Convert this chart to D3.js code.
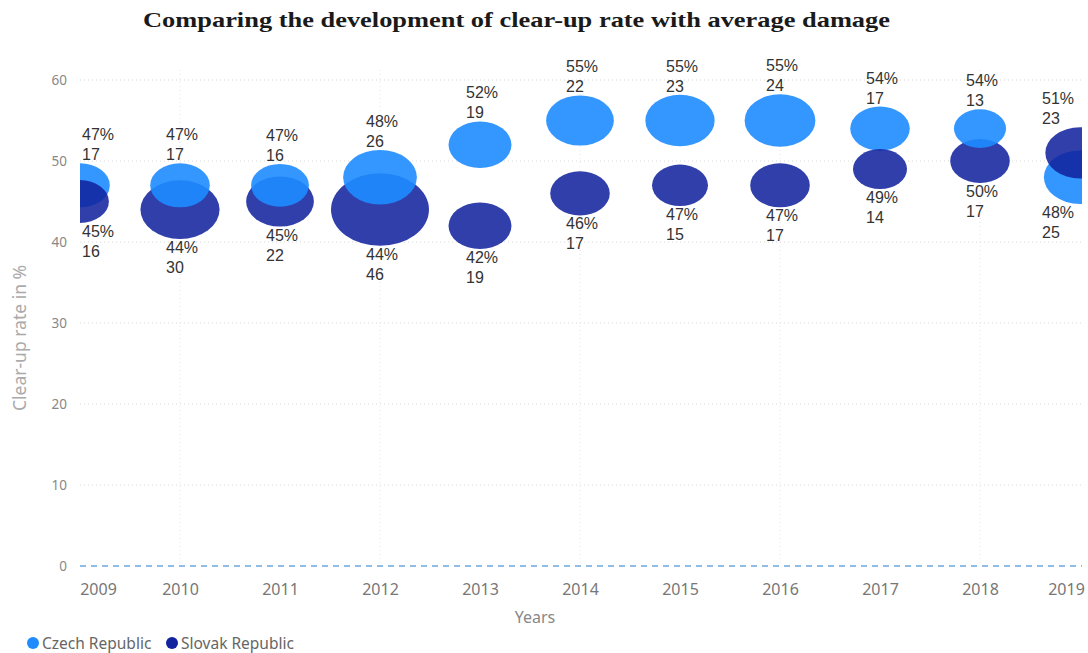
<!DOCTYPE html>
<html>
<head>
<meta charset="utf-8">
<script src="https://cdn.jsdelivr.net/npm/d3@7"></script>
<style>
  html, body { margin: 0; padding: 0; background: #fff; }
  svg { display: block; }
</style>
</head>
<body>
<svg id="chart" width="1088" height="653"></svg>
<script>
const years = [2009, 2010, 2011, 2012, 2013, 2014, 2015, 2016, 2017, 2018, 2019];
const czechRate = [47, 47, 47, 48, 52, 55, 55, 55, 54, 54, 48];
const czechDamage = [17, 17, 16, 26, 19, 22, 23, 24, 17, 13, 25];
const slovakRate = [45, 44, 45, 44, 42, 46, 47, 47, 49, 50, 51];
const slovakDamage = [16, 30, 22, 46, 19, 17, 15, 17, 14, 17, 23];
const yTicks = [0, 10, 20, 30, 40, 50, 60];
const gridYears = [2010, 2012, 2014, 2016, 2018];
const seriesNames = ["Czech Republic", "Slovak Republic"];
const seriesColors = ["#1E8CFF", "#12239E"];
const titleText = "Comparing the development of clear-up rate with average damage";

const svg = d3.select("#chart");
const plot = { left: 80, right: 1082, top: 60, bottom: 566 };

const x = d3.scaleLinear().domain([2009, 2019]).range([80, 1080]);
const y = d3.scaleLinear().domain([0, 60]).range([566, 80]);
const r = d3.scaleSqrt().domain([0, 46]).range([0, 49]);
const aspect = 0.74;
const sans = "'Noto Sans', 'Open Sans', sans-serif";

// Title
svg.append("text")
  .attr("x", 143).attr("y", 27)
  .attr("textLength", 747).attr("lengthAdjust", "spacingAndGlyphs")
  .attr("font-family", "'Liberation Serif', 'Times New Roman', serif")
  .attr("font-weight", "bold")
  .attr("font-size", 22)
  .attr("fill", "#1a1a1a")
  .text(titleText);

// Grid
const grid = svg.append("g");
grid.selectAll("line.h").data(yTicks.filter(d => d > 0)).join("line")
  .attr("x1", plot.left).attr("x2", plot.right)
  .attr("y1", d => y(d)).attr("y2", d => y(d))
  .attr("stroke", "#d8d8d8").attr("stroke-width", 1).attr("stroke-dasharray", "1,3");
grid.selectAll("line.v").data(gridYears).join("line")
  .attr("x1", d => x(d)).attr("x2", d => x(d))
  .attr("y1", plot.top + 10).attr("y2", plot.bottom)
  .attr("stroke", "#e4e4e4").attr("stroke-width", 1).attr("stroke-dasharray", "1,3");

// Zero line
svg.append("line")
  .attr("x1", plot.left).attr("x2", plot.right)
  .attr("y1", y(0)).attr("y2", y(0))
  .attr("stroke", "#8fbde6").attr("stroke-width", 2).attr("stroke-dasharray", "6,5");

// Y axis labels
const yAxis = d3.axisLeft(y).tickValues(yTicks).tickSize(0).tickPadding(0);
const yg = svg.append("g").attr("transform", `translate(67,0)`).call(yAxis);
yg.select(".domain").remove();
yg.selectAll("text").attr("font-family", sans).attr("font-size", 13.5).attr("fill", "#888");

// X axis labels
const xAxis = d3.axisBottom(x).tickValues(years).tickFormat(d3.format("d")).tickSize(0).tickPadding(0);
const xg = svg.append("g").attr("transform", `translate(0,584)`).call(xAxis);
xg.select(".domain").remove();
xg.selectAll("text").attr("font-family", sans).attr("font-size", 16).attr("fill", "#777")
  .attr("dy", "0.71em")
  .attr("dx", d => d === 2009 ? 18 : (d === 2019 ? -14 : 0));

// Axis titles
svg.append("text").attr("x", 535).attr("y", 623).attr("text-anchor", "middle")
  .attr("font-family", sans).attr("font-size", 16).attr("fill", "#888").text("Years");
svg.append("text").attr("transform", "translate(26,338) rotate(-90)").attr("text-anchor", "middle")
  .attr("font-family", sans).attr("font-size", 17.5).attr("fill", "#aaa").text("Clear-up rate in %");

// Bubbles
svg.append("clipPath").attr("id", "plotclip").append("rect")
  .attr("x", plot.left).attr("y", plot.top - 20)
  .attr("width", plot.right - plot.left).attr("height", plot.bottom - plot.top + 20);

const points = [];
years.forEach((yr, i) => {
  const hiCz = czechRate[i] >= slovakRate[i];
  points.push({ year: yr, rate: czechRate[i], dmg: czechDamage[i], s: 0, above: hiCz });
  points.push({ year: yr, rate: slovakRate[i], dmg: slovakDamage[i], s: 1, above: !hiCz });
});
const ordered = points.slice().sort((a, b) => b.dmg - a.dmg);

const bub = svg.append("g").attr("clip-path", "url(#plotclip)");
bub.selectAll("ellipse").data(ordered).join("ellipse")
  .attr("cx", d => x(d.year))
  .attr("cy", d => y(d.rate))
  .attr("rx", d => r(d.dmg))
  .attr("ry", d => r(d.dmg) * aspect)
  .attr("fill", d => seriesColors[d.s])
  .attr("fill-opacity", d => d.s === 0 ? 0.9 : 0.87);

// Labels
const lab = svg.append("g").attr("font-family", "'Liberation Sans', Arial, sans-serif")
  .attr("font-size", 16).attr("fill", "#333");
points.forEach(d => {
  const cx = x(d.year), cy = y(d.rate), ry = r(d.dmg) * aspect;
  const lx = Math.max(82, Math.min(cx - 14, 1042));
  let b1, b2;
  if (d.above) { b2 = cy - ry - 3; b1 = b2 - 20; }
  else { b1 = cy + ry + 14; b2 = b1 + 20; }
  lab.append("text").attr("x", lx).attr("y", b1).text(d.rate + "%");
  lab.append("text").attr("x", lx).attr("y", b2).text(d.dmg);
});

// Legend
const leg = svg.append("g").attr("font-family", sans).attr("font-size", 15.5).attr("fill", "#666");
const legX = [33, 172];
seriesNames.forEach((n, i) => {
  leg.append("circle").attr("cx", legX[i]).attr("cy", 643).attr("r", 6).attr("fill", seriesColors[i]);
  leg.append("text").attr("x", legX[i] + 9).attr("y", 649).text(n);
});
</script>
</body>
</html>
